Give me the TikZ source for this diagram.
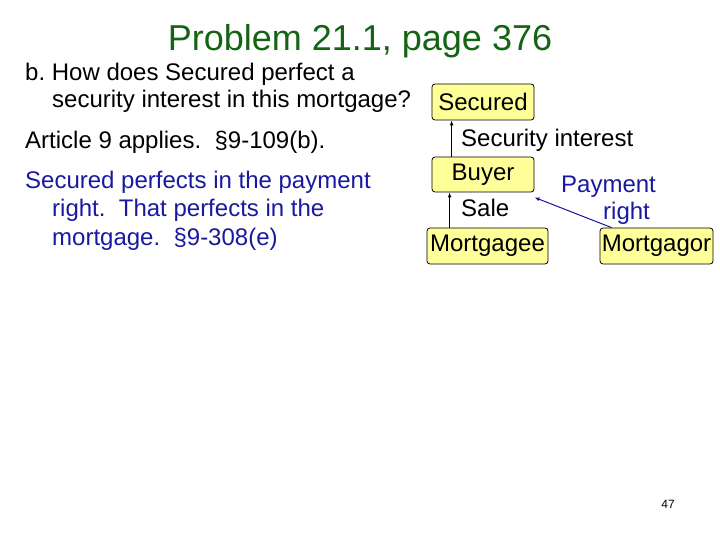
\documentclass[tikz,border=0pt]{standalone}
\usepackage{fontspec}
\setmainfont{Liberation Sans}
\usetikzlibrary{arrows.meta}
\definecolor{titlegreen}{RGB}{20,100,20}
\definecolor{boxfill}{RGB}{255,255,153}
\definecolor{darkblue}{RGB}{25,25,160}
\frenchspacing
\begin{document}
\begin{tikzpicture}[x=1pt,y=-1pt,
  body/.style={anchor=base west,inner sep=0pt,font=\fontsize{24}{28}\selectfont},
  partybox/.style={draw=black,line width=0.8pt,fill=boxfill,rounded corners=3pt,inner sep=0pt,font=\fontsize{24}{28}\selectfont},
  conn/.style={line width=1pt,-{Latex[length=5pt,width=4pt]}}]
\useasboundingbox (0,0) rectangle (720,540);
\node[anchor=base,inner sep=0pt,text=titlegreen,font=\fontsize{36}{42}\selectfont] (title) at (360,51) {Problem 21.1, page 376};
\node[body] (q1) at (25,81) {b. How does Secured perfect a};
\node[body] (q2) at (52,108) {security interest in this mortgage?};
\node[body] (a1) at (25,149) {Article 9 applies.\ \ §9-109(b).};
\node[body,text=darkblue] (a2) at (25,189) {Secured perfects in the payment};
\node[body,text=darkblue] (a3) at (52,217) {right.\ \ That perfects in the};
\node[body,text=darkblue] (a4) at (52,245) {mortgage.\ \ §9-308(e)};
\node[partybox,minimum width=102pt,minimum height=36pt] (secured) at (483,102) {Secured};
\node[partybox,minimum width=102pt,minimum height=35pt] (buyer) at (483,174.5) {Buyer};
\node[partybox,minimum width=121pt,minimum height=36pt] (mortgagee) at (487.5,246) {Mortgagee};
\node[partybox,minimum width=113pt,minimum height=36pt] (mortgagor) at (656.5,246) {Mortgagor};
\draw[conn] ([xshift=20pt]buyer.north west) -- ([xshift=20pt]secured.south west);
\draw[conn] ([xshift=23pt]mortgagee.north west) -- ([xshift=18pt]buyer.south west);
\draw[conn,draw=darkblue,fill=darkblue] ([xshift=12pt]mortgagor.north west) -- ([yshift=-5pt]buyer.south east);
\node[body] (si) at (461,146.5) {Security interest};
\node[body] (sale) at (461,217) {Sale};
\node[body,text=darkblue] (pay) at (561,193) {Payment};
\node[body,text=darkblue] (right) at (603,220) {right};
\node[anchor=base,inner sep=0pt,font=\fontsize{12}{14}\selectfont] (num) at (668,508) {47};
\end{tikzpicture}
\end{document}
